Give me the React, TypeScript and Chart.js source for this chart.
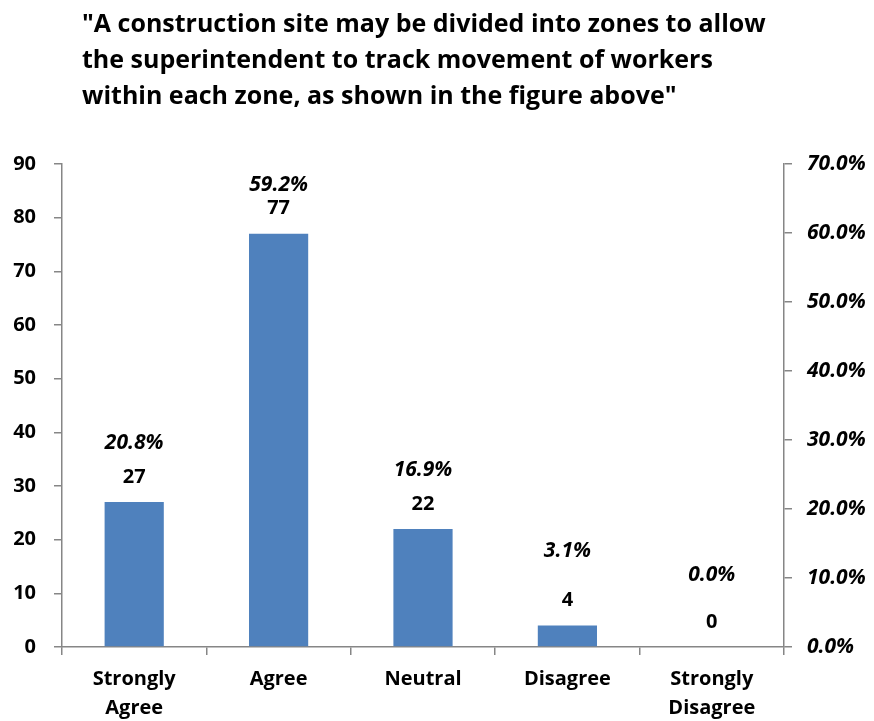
import React, { useEffect, useRef } from "react";
import { Chart, registerables } from "chart.js";

Chart.register(...registerables);

const categories: (string | string[])[] = [
  ["Strongly", "Agree"],
  "Agree",
  "Neutral",
  "Disagree",
  ["Strongly", "Disagree"],
];
const counts = [27, 77, 22, 4, 0];
const percents = [20.8, 59.2, 16.9, 3.1, 0.0];
const leftTicks = [0, 10, 20, 30, 40, 50, 60, 70, 80, 90];
const rightTicks = [0, 10, 20, 30, 40, 50, 60, 70];
const titleLines = [
  '"A construction site may be divided into zones to allow',
  "the superintendent to track movement of workers",
  'within each zone, as shown in the figure above"',
];

// label placement (px above bar top) — styling, not data
const countLabelGap = 25;
const pctLabelGap = [59, 49, 59, 75, 72];

const FONT = "'Open Sans', Lato, sans-serif";
const AXIS = "#868686";

const labelPlugin = {
  id: "barLabels",
  afterDatasetsDraw(chart: any) {
    const meta = chart.getDatasetMeta(0);
    const ctx = chart.ctx;
    ctx.save();
    ctx.textAlign = "center";
    ctx.textBaseline = "middle";
    ctx.fillStyle = "#000";
    meta.data.forEach((el: any, i: number) => {
      const top = el.y;
      ctx.font = `bold 20px ${FONT}`;
      ctx.fillText(String(counts[i]), el.x, top - countLabelGap);
      ctx.font = `italic bold 21px ${FONT}`;
      ctx.fillText(percents[i].toFixed(1) + "%", el.x, top - pctLabelGap[i]);
    });
    ctx.restore();
  },
};

export default function App() {
  const ref = useRef<HTMLCanvasElement>(null);
  useEffect(() => {
    if (!ref.current) return;
    const chart = new Chart(ref.current, {
      type: "bar",
      data: {
        labels: categories,
        datasets: [
          {
            type: "bar",
            data: counts,
            backgroundColor: "#4F81BD",
            borderWidth: 0,
            barPercentage: 0.41,
            categoryPercentage: 1,
            yAxisID: "y",
          },
          {
            type: "line",
            data: percents,
            borderColor: "rgba(0,0,0,0)",
            backgroundColor: "rgba(0,0,0,0)",
            pointRadius: 0,
            yAxisID: "y2",
          } as any,
        ],
      },
      options: {
        animation: false,
        responsive: false,
        maintainAspectRatio: false,
        layout: { padding: { top: 164, left: 12, right: 0, bottom: 0 } },
        plugins: { legend: { display: false }, tooltip: { enabled: false }, title: { display: false } },
        scales: {
          x: {
            offset: true,
            grid: { display: true, drawOnChartArea: false, drawTicks: true, tickLength: 8, color: AXIS, offset: true, lineWidth: 1.5 },
            border: { display: true, color: AXIS, width: 1.5 },
            ticks: { color: "#000", font: { family: FONT, size: 20, weight: "bold", lineHeight: 1.45 }, padding: 10, maxRotation: 0, autoSkip: false },
            afterFit(scale: any) { scale.height = 74; },
          },
          y: {
            position: "left",
            min: 0,
            max: 90,
            afterBuildTicks(scale: any) { scale.ticks = leftTicks.map((v) => ({ value: v })); },
            grid: { display: true, drawOnChartArea: false, drawTicks: true, tickLength: 8, color: AXIS, lineWidth: 1.5 },
            border: { display: true, color: AXIS, width: 1.5 },
            ticks: { color: "#000", font: { family: FONT, size: 20, weight: "bold" }, padding: 18 },
            afterFit(scale: any) { scale.width = 50; },
          },
          y2: {
            position: "right",
            min: 0,
            max: 70,
            afterBuildTicks(scale: any) { scale.ticks = rightTicks.map((v) => ({ value: v })); },
            grid: { display: true, drawOnChartArea: false, drawTicks: true, tickLength: 8, color: AXIS, lineWidth: 1.5 },
            border: { display: true, color: AXIS, width: 1.5 },
            ticks: {
              color: "#000",
              font: { family: FONT, size: 21, weight: "bold", style: "italic" },
              padding: 15,
              callback: (v: any) => Number(v).toFixed(1) + "%",
            },
            afterFit(scale: any) { scale.width = 90; },
          },
        },
      } as any,
      plugins: [labelPlugin],
    });
    return () => chart.destroy();
  }, []);

  return (
    <div style={{ position: "absolute", left: 0, top: 0, width: 874, height: 721, background: "#fff" }}>
      <canvas ref={ref} width={874} height={721} style={{ position: "absolute", left: 0, top: 0 }} />
      <div
        style={{
          position: "absolute",
          left: 82,
          top: 4,
          fontFamily: FONT,
          fontWeight: "bold",
          fontSize: 25,
          lineHeight: "36px",
          color: "#000",
          whiteSpace: "pre",
        }}
      >
        {titleLines.map((l, i) => (
          <div key={i}>{l}</div>
        ))}
      </div>
    </div>
  );
}
